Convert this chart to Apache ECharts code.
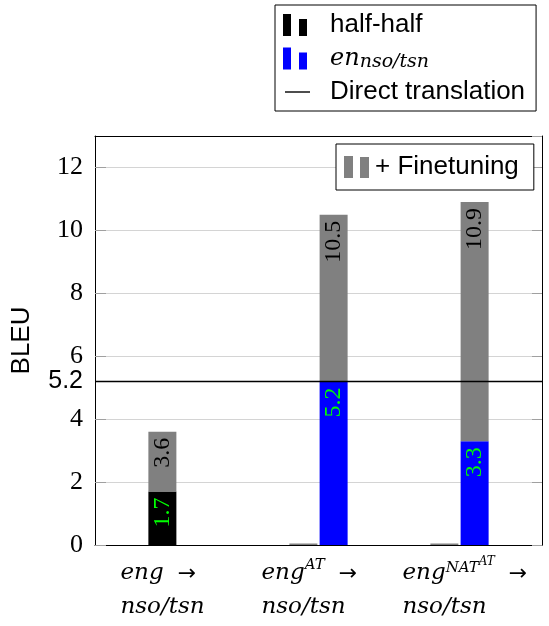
<!DOCTYPE html>
<html>
<head>
<meta charset="utf-8">
<script src="https://cdn.jsdelivr.net/npm/echarts@6/dist/echarts.min.js"></script>
<style>html,body{margin:0;padding:0;background:#fff}#c{width:549px;height:626px}</style>
</head>
<body>
<div id="c"></div>
<script>
// ---- data ----
const categories = ['eng → nso/tsn', 'eng^AT → nso/tsn', 'eng^NAT^AT → nso/tsn'];
const halfHalf = [1.7, 0, 0];            // half-half
const halfHalfFinetuned = [3.6, 0, 0];   // half-half + finetuning (total)
const enNsoTsn = [null, 5.2, 3.3];       // en_nso/tsn
const enNsoTsnFinetuned = [null, 10.5, 10.9]; // en_nso/tsn + finetuning (total)
const directTranslation = 5.2;
const yTicks = [0, 2, 4, 6, 8, 10, 12];

// increments for stacking
const inc = (tot, base) => tot.map((t, i) => t == null ? null : +(t - (base[i] || 0)).toFixed(2));

const chart = echarts.init(document.getElementById('c'), null, {renderer: 'canvas'});

const serif = 'Liberation Serif';
const sans = 'Liberation Sans';
const barIconWide = 'path://M0,0M42,22M0,0H8V22H0Z M16,5H24V22H16Z';
const lineIconWide = 'path://M0,0M42,22M2,10.3H27V11.7H2Z';
const barIcon = 'path://M0,0M26,22M0,0H9V22H0Z M16,1H25V22H16Z';

function catFmt(v) {
  const [src, tgt] = v.split(' → ');
  const parts = src.split('^');
  let s = '{m|' + parts[0] + '}';
  if (parts.length === 2) s += '{sup|' + parts[1] + '}';
  if (parts.length === 3) s += '{sa|' + parts[1] + '}{sb|' + parts[2] + '}';
  return s + '{arr|  →}\n{m|' + tgt + '}';
}

const baseLabel = (color, fmt) => ({
  show: true, position: 'insideTop', distance: 6, rotate: 90,
  align: 'right', verticalAlign: 'middle',
  color: color, fontFamily: serif, fontSize: 24, formatter: fmt
});

const frameLine = {show: true, onZero: false, lineStyle: {color: '#000', width: 1}};

const option = {
  animation: false,
  backgroundColor: '#fff',
  grid: [
    {left: 95, right: 7, top: 136, bottom: 81},
    {left: 107, right: 19, top: 136, bottom: 81}
  ],
  legend: [
    {
      left: 275, top: 5, orient: 'vertical',
      selectedMode: false,
      borderColor: '#000', borderWidth: 1, backgroundColor: '#fff',
      padding: [7, 11, 6, 8],
      itemWidth: 42, itemHeight: 22, itemGap: 7,
      data: [
        {name: 'half-half', icon: barIconWide},
        {name: 'en_nso/tsn', icon: barIconWide},
        {name: 'Direct translation', icon: lineIconWide}
      ],
      formatter: n => n === 'en_nso/tsn' ? '{i|en}{s|nso/tsn}' : n,
      textStyle: {
        fontFamily: sans, fontSize: 26, lineHeight: 22, color: '#000',
        rich: {
          i: {fontFamily: 'DejaVu Serif', fontStyle: 'italic', fontSize: 24, lineHeight: 22, verticalAlign: 'middle', color: '#000'},
          s: {fontFamily: 'DejaVu Serif', fontStyle: 'italic', fontSize: 19, lineHeight: 16, padding: [8, 0, 0, 0], verticalAlign: 'middle', color: '#000'}
        }
      }
    },
    {
      left: 336, top: 144, orient: 'vertical',
      selectedMode: false,
      borderColor: '#000', borderWidth: 1, backgroundColor: '#fff',
      padding: [10, 15, 10, 8],
      itemWidth: 26, itemHeight: 22,
      data: [{name: '+ Finetuning', icon: barIcon}],
      textStyle: {fontFamily: sans, fontSize: 26, lineHeight: 22, color: '#000'}
    }
  ],
  xAxis: [
    {gridIndex: 0, type: 'value', min: 0, max: 1, position: 'bottom',
     axisLine: frameLine, axisTick: {show: false}, axisLabel: {show: false}, splitLine: {show: false}},
    {gridIndex: 0, type: 'value', min: 0, max: 1, position: 'top',
     axisLine: frameLine, axisTick: {show: false}, axisLabel: {show: false}, splitLine: {show: false}},
    {gridIndex: 1, type: 'category', data: categories, boundaryGap: true,
     axisLine: {show: false}, axisTick: {show: false}, splitLine: {show: false},
     axisLabel: {
       show: true, interval: 0, margin: 6, width: 114, align: 'center', verticalAlign: 'top',
       formatter: catFmt,
       rich: {
         m: {fontFamily: 'DejaVu Serif', fontStyle: 'italic', fontSize: 23, lineHeight: 34, verticalAlign: 'bottom', align: 'left', color: '#000'},
         arr: {fontFamily: 'DejaVu Sans', fontSize: 22, lineHeight: 34, verticalAlign: 'bottom', align: 'left', color: '#000'},
         sup: {fontFamily: 'DejaVu Serif', fontStyle: 'italic', fontSize: 15, lineHeight: 16, padding: [7, 0, 19, 0], verticalAlign: 'top', align: 'left', color: '#000'},
         sa: {fontFamily: 'DejaVu Serif', fontStyle: 'italic', fontSize: 15, lineHeight: 16, padding: [10, 0, 23, 0], verticalAlign: 'top', align: 'left', color: '#000'},
         sb: {fontFamily: 'DejaVu Serif', fontStyle: 'italic', fontSize: 12, lineHeight: 13, padding: [5, 0, 31, 0], verticalAlign: 'top', align: 'left', color: '#000'}
       }
     }}
  ],
  yAxis: [
    {gridIndex: 0, type: 'value', min: 0, max: 13, interval: 2, position: 'left',
     name: 'BLEU', nameLocation: 'middle', nameGap: 60,
     nameTextStyle: {fontFamily: sans, fontSize: 26, color: '#000'},
     axisLine: frameLine,
     axisTick: {show: true, inside: true, length: 11, lineStyle: {color: '#a0a0a0'}},
     axisLabel: {show: true, margin: 12, showMaxLabel: false, fontFamily: serif, fontSize: 26, color: '#000',
                 formatter: v => yTicks.includes(v) ? String(v) : ''},
     splitLine: {show: true, lineStyle: {color: '#d4d4d4', width: 1}}},
    {gridIndex: 0, type: 'value', min: 0, max: 13, interval: 2, position: 'right',
     axisLine: frameLine,
     axisTick: {show: true, inside: true, length: 10, lineStyle: {color: '#a0a0a0'}},
     axisLabel: {show: false}, splitLine: {show: false}},
    {gridIndex: 0, type: 'value', min: 0, max: 13, position: 'left',
     axisLine: {show: false, onZero: false},
     axisTick: {show: true, inside: true, length: 11, customValues: [directTranslation], lineStyle: {color: '#a0a0a0'}},
     axisLabel: {show: true, margin: 12, customValues: [directTranslation], fontFamily: sans, fontSize: 25, color: '#000'},
     splitLine: {show: false}},
    {gridIndex: 1, type: 'value', min: 0, max: 13, show: false}
  ],
  series: [
    {name: 'Direct translation', type: 'line', xAxisIndex: 0, yAxisIndex: 0,
     data: [[0, directTranslation], [1, directTranslation]], symbol: 'none', z: 5,
     itemStyle: {color: '#000'}, lineStyle: {color: '#000', width: 1.5}},
    {name: 'half-half', type: 'bar', xAxisIndex: 2, yAxisIndex: 3, stack: 'hh',
     barWidth: 28, barGap: '8%', data: halfHalf, itemStyle: {color: '#000'},
     label: baseLabel('#00ff00', p => p.value ? p.value.toFixed(1) : '')},
    {name: '+ Finetuning', type: 'bar', xAxisIndex: 2, yAxisIndex: 3, stack: 'hh',
     barWidth: 28, barGap: '8%', barMinHeight: 1.5, data: inc(halfHalfFinetuned, halfHalf), itemStyle: {color: '#808080'},
     label: baseLabel('#000', p => halfHalfFinetuned[p.dataIndex] ? halfHalfFinetuned[p.dataIndex].toFixed(1) : '')},
    {name: 'en_nso/tsn', type: 'bar', xAxisIndex: 2, yAxisIndex: 3, stack: 'en',
     barWidth: 28, barGap: '8%', data: enNsoTsn, itemStyle: {color: '#0000ff'},
     label: baseLabel('#00ff00', p => p.value ? p.value.toFixed(1) : '')},
    {name: '+ Finetuning', type: 'bar', xAxisIndex: 2, yAxisIndex: 3, stack: 'en',
     barWidth: 28, barGap: '8%', data: inc(enNsoTsnFinetuned, enNsoTsn), itemStyle: {color: '#808080'},
     label: baseLabel('#000', p => enNsoTsnFinetuned[p.dataIndex] ? enNsoTsnFinetuned[p.dataIndex].toFixed(1) : '')}
  ]
};
chart.setOption(option);
</script>
</body>
</html>
